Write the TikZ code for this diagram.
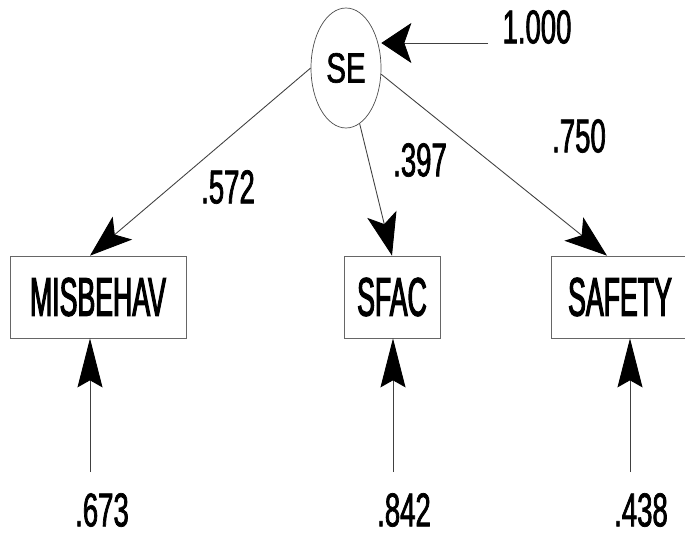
\documentclass[tikz,border=0pt]{standalone}
\usepackage{fontspec}
\newfontfamily\boxfont{Liberation Sans}[FakeStretch=0.49, FakeBold=2]
\newfontfamily\numfont{Liberation Sans}[FakeStretch=0.58, FakeBold=1.5]
\newfontfamily\latfont{Liberation Sans}[FakeStretch=0.7, FakeBold=1.5]
\usetikzlibrary{shapes.geometric, arrows.meta}

\begin{document}
\begin{tikzpicture}
	\tikzstyle{latent} = [ellipse, draw=black!70, minimum width=1.4cm, minimum height=2.4cm, inner sep=0pt, font=\latfont\fontsize{24}{24}\selectfont]
	\tikzstyle{obs} = [rectangle, draw=black!60, minimum height=1.64cm, inner sep=0pt, font=\boxfont\fontsize{31}{31}\selectfont]
	\tikzstyle{coef} = [inner sep=0pt, font=\numfont\fontsize{27}{27}\selectfont]
	\tikzstyle{edge} = [black!75, line width=0.5pt, -{Stealth[length=0.85cm, width=0.6cm, inset=0.2cm, black]}]
	\tikzstyle{erredge} = [black!75, line width=0.5pt, -{Stealth[length=0.98cm, width=0.5cm, inset=0.14cm, black]}]
	\tikzstyle{varedge} = [black!75, line width=0.5pt, -{Stealth[length=0.6cm, width=0.8cm, inset=0.14cm, black]}]
\def\layerpos{-5.94}
\def\errpos{-9.44}

\useasboundingbox (0,0) rectangle (13.7,-10.68);

%latent factor
\node[latent] (SE) at (6.92,-1.36) {SE};
\node[coef] (var_SE) at (10.74,-0.54) {1.000};
\coordinate (r_0) at (9.76,-0.86);
\draw[varedge] (r_0) -- (r_0 -| SE.east);

%observables
\foreach \name/\x/\w in {MISBEHAV/1.96/3.52, SFAC/7.84/1.92, SAFETY/12.4/2.76}
  	\node[obs, minimum width=\w cm] (\name) at (\x, \layerpos) {\name};

%errors
\foreach \i/\obs/\x/\lx/\val in {1/MISBEHAV/1.8/2.04/.673, 2/SFAC/7.86/8.08/.842, 3/SAFETY/12.6/12.82/.438} {
	\coordinate (e_\i) at (\x, \errpos);
	\node[coef] (err_\i) at (\lx, -10.2) {\val};
	\draw[erredge] (e_\i) -- (e_\i |- \obs.south);
}

%loadings
\draw[edge] (SE.west) -- (MISBEHAV.north -| e_1);
\draw[edge] (SE) -- (SFAC.north);
\draw[edge] (SE.-10) -- ([xshift=-0.26cm]SAFETY.north);

\node[coef] (l_1) at (4.56,-3.74) {.572};
\node[coef] (l_2) at (8.4,-3.2) {.397};
\node[coef] (l_3) at (11.58,-2.72) {.750};
\end{tikzpicture}
\end{document}
